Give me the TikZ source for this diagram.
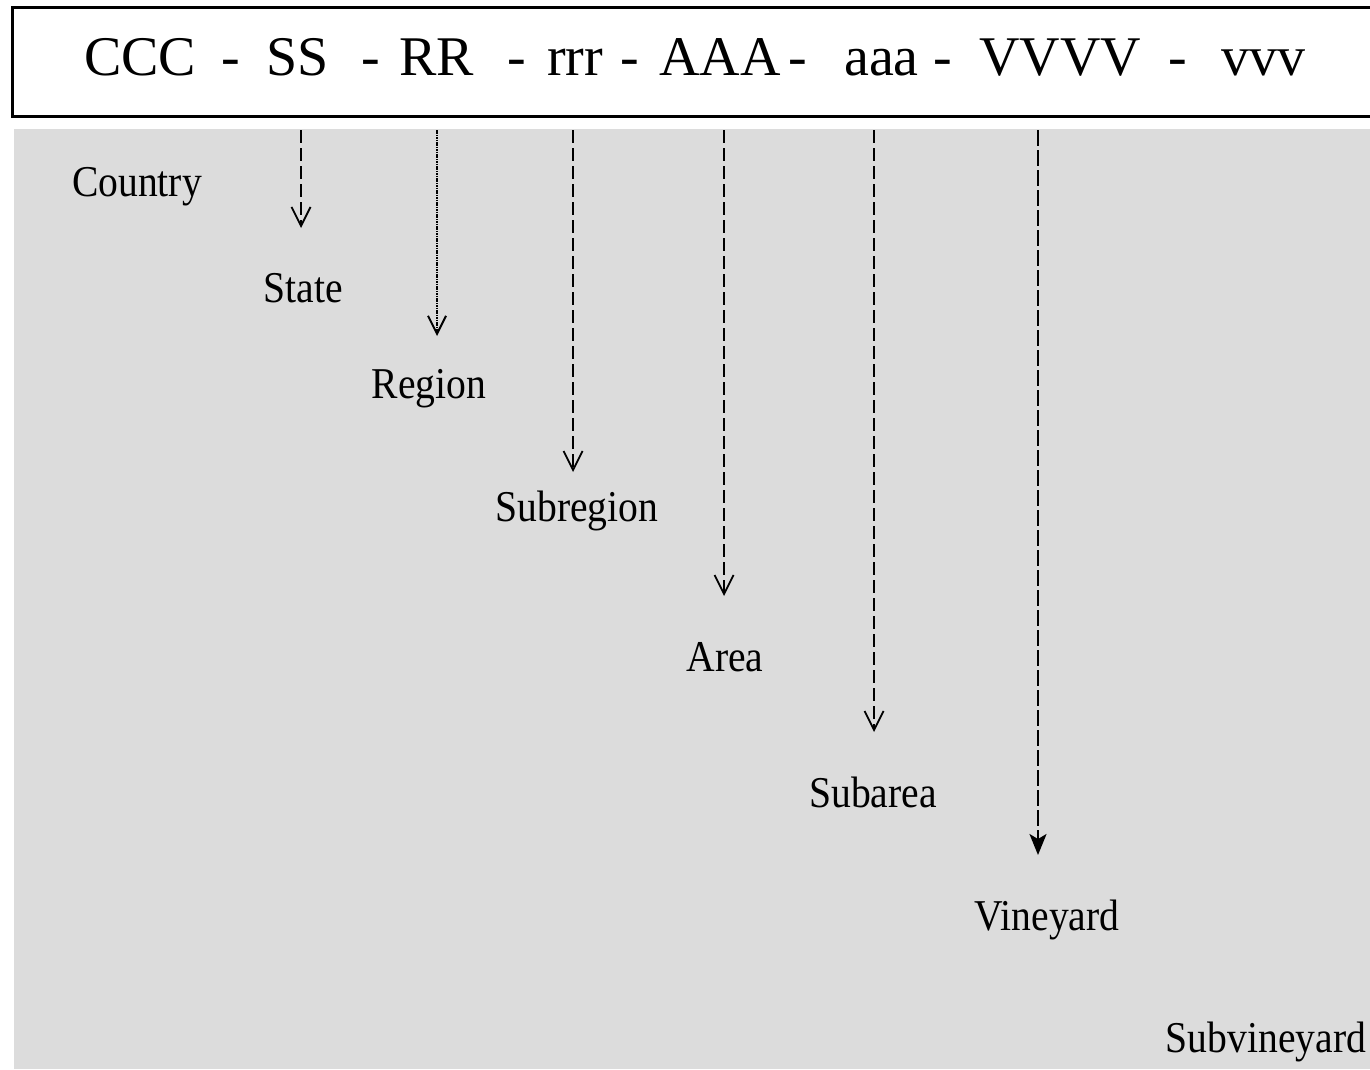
\documentclass[tikz,border=0pt]{standalone}
\usepackage{fontspec}
\setmainfont{Liberation Serif}
\newfontfamily\levelfont[FakeStretch=0.9]{Liberation Serif}
\usepackage{xcolor}
\usepackage{tikz}
\usetikzlibrary{arrows.meta,positioning}

\definecolor{panelGrey}{RGB}{220,220,220}

\begin{document}
\begin{tikzpicture}[x=1pt, y=-1pt]
  \tikzset{
    codePart/.style={inner sep=0pt, anchor=base west, font=\fontsize{56}{58}\selectfont},
    levelLabel/.style={inner sep=0pt, anchor=base, font=\levelfont\fontsize{44}{46}\selectfont},
    levelArrow/.style={line width=1.4pt, dash pattern=on 13pt off 5pt, -{Straight Barb[length=19pt, width=19pt, line width=1.8pt]}},
    regionArrow/.style={line width=2.6pt, dash pattern=on 1.6pt off 0.8pt, -{Straight Barb[length=18pt, width=18pt, line width=2pt]}},
    vineArrow/.style={line width=2pt, dash pattern=on 16pt off 4pt, -{Stealth[length=21pt, width=17pt, inset=5pt]}}
  }
  \useasboundingbox (0,0) rectangle (1370,1069);

  % --- grey panel and code box ---
  \fill[panelGrey] (14,129) rectangle (1370,1069);
  \draw[line width=3pt] (1385,7) -- (12,7) -- (12,116) -- (1385,116);

  % --- code parts, left to right ---
  \node[codePart] (cc-part) at (84,75) {CCC};
  \node[codePart] (dash1) at (221,75) {-};
  \node[codePart] (ss-part) at (266,75) {SS};
  \node[codePart] (dash2) at (361,75) {-};
  \node[codePart] (rr-part) at (399,75) {RR};
  \node[codePart] (dash3) at (507,75) {-};
  \node[codePart] (sr-part) at (547,75) {rrr};
  \node[codePart] (dash4) at (620,75) {-};
  \node[codePart] (aa-part) at (659,75) {AAA};
  \node[codePart] (dash5) at (788,75) {-};
  \node[codePart] (sa-part) at (844,75) {aaa};
  \node[codePart] (dash6) at (933,75) {-};
  \node[codePart] (vv-part) at (979,75) {VVVV};
  \node[codePart] (dash7) at (1168,75) {-};
  \node[codePart] (sv-part) at (1221,75) {vvv};

  % --- level names, stepping down ---
  \node[levelLabel] (country) at (137,196) {Country};
  \node[levelLabel] (state) at (303,302) {State};
  \node[levelLabel] (region) at (429,398) {Region};
  \node[levelLabel] (subregion) at (577,521) {Subregion};
  \node[levelLabel] (area) at (725,671) {Area};
  \node[levelLabel] (subarea) at (873,807) {Subarea};
  \node[levelLabel] (vineyard) at (1047,930) {Vineyard};
  \node[levelLabel] (subvineyard) at (1266,1052) {Subvineyard};

  % --- arrow ends ---
  \coordinate (ss-top) at (301,130);   \coordinate (ss-end) at (301,228);
  \coordinate (rr-top) at (437,130);   \coordinate (rr-end) at (437,336);
  \coordinate (sr-top) at (573,130);   \coordinate (sr-end) at (573,472);
  \coordinate (aa-top) at (724,130);   \coordinate (aa-end) at (724,596);
  \coordinate (sa-top) at (874,130);   \coordinate (sa-end) at (874,732);
  \coordinate (vv-top) at (1038,130);  \coordinate (vv-end) at (1038,855);

  \draw[levelArrow] (ss-top) -- (ss-end);
  \draw[regionArrow] (rr-top) -- (rr-end);
  \draw[levelArrow] (sr-top) -- (sr-end);
  \draw[levelArrow] (aa-top) -- (aa-end);
  \draw[levelArrow] (sa-top) -- (sa-end);
  \draw[vineArrow] (vv-top) -- (vv-end);

\end{tikzpicture}
\end{document}
